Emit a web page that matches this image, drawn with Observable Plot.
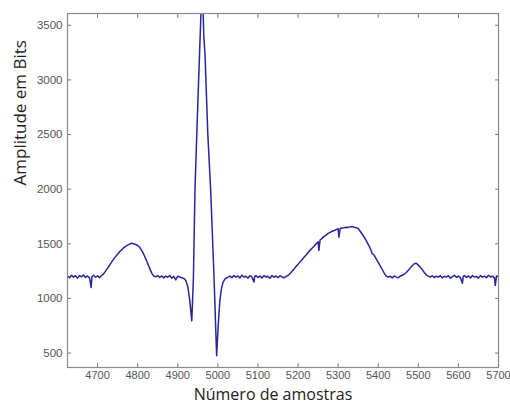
<!DOCTYPE html>
<html>
<head>
<meta charset="utf-8">
<script src="https://cdn.jsdelivr.net/npm/d3@7"></script>
<script src="https://cdn.jsdelivr.net/npm/@observablehq/plot@0.6"></script>
<style>
  html, body { margin: 0; padding: 0; background: #fff; }
  #chart svg { display: block; }
</style>
</head>
<body>
<div id="chart"></div>
<script>
// Sample index (Número de amostras)
const sampleX = [
  4625, 4630, 4635, 4640, 4645, 4650, 4655, 4660, 4665, 4670, 4675, 4680, 4684, 4686, 4690, 4695, 4700, 4705, 4710,
  4715, 4720, 4725, 4730, 4735, 4740, 4745, 4750, 4755, 4760, 4765, 4770, 4775, 4780, 4785, 4790, 4795, 4800, 4805, 4810, 4815, 4820, 4825, 4830, 4835,
  4840, 4845, 4850, 4855, 4860, 4865, 4870, 4875, 4880, 4885, 4890, 4895, 4900, 4905, 4910, 4915, 4920, 4925, 4930, 4935,
  4939, 4943, 4948, 4953, 4958, 4962, 4965, 4968, 4975, 4982, 4990, 4997,
  5001, 5005, 5009, 5013, 5018, 5024, 5030, 5035, 5040, 5045, 5050, 5055, 5060, 5065, 5070, 5075, 5080, 5085, 5090, 5092, 5095, 5100,
  5105, 5110, 5115, 5120, 5125, 5130, 5135, 5140, 5145, 5150, 5155, 5160, 5165, 5170, 5175,
  5180, 5185, 5190, 5195, 5200, 5205, 5210, 5215, 5220, 5225, 5230, 5235, 5240, 5245, 5250, 5252, 5255, 5260, 5265, 5270, 5275, 5280,
  5285, 5290, 5295, 5300, 5302, 5305, 5310, 5315, 5320, 5325, 5330, 5335, 5340, 5345, 5350, 5355, 5360, 5365, 5370, 5375, 5380, 5385,
  5390, 5395, 5400, 5405, 5410, 5415, 5420, 5425, 5430, 5435, 5440, 5445, 5450, 5455, 5460, 5465, 5470, 5475, 5480, 5485, 5490, 5495,
  5500, 5505, 5510, 5515, 5520, 5525, 5530, 5535, 5540, 5545, 5550, 5555, 5560, 5565, 5570, 5575, 5580, 5585, 5590, 5595, 5600, 5605,
  5610, 5612, 5615, 5620, 5625, 5630, 5635, 5640, 5645, 5650, 5655, 5660, 5665, 5670, 5675, 5680, 5685, 5690, 5692, 5695, 5700
];
// Amplitude em Bits
const amplitude = [
  1205, 1190, 1212, 1195, 1208, 1186, 1210, 1198, 1215, 1192, 1206, 1188, 1100, 1200, 1212, 1194, 1207, 1190, 1210,
  1225, 1250, 1278, 1305, 1332, 1360, 1385, 1405, 1428, 1445, 1462, 1476, 1488, 1498, 1505, 1500, 1494, 1485, 1468, 1440, 1405, 1365, 1320, 1275, 1232,
  1205, 1198, 1210, 1192, 1206, 1188, 1204, 1195, 1210, 1186, 1202, 1170, 1205, 1196, 1190, 1184, 1165, 1110, 980, 795,
  1180, 2000, 2560, 3100, 3620, 3800, 3400, 3230, 2500, 2000, 1240, 475,
  760, 980, 1090, 1150, 1180, 1192, 1205, 1190, 1210, 1195, 1206, 1188, 1212, 1196, 1203, 1185, 1208, 1196, 1150, 1200, 1210, 1192,
  1205, 1188, 1210, 1196, 1203, 1185, 1210, 1194, 1206, 1190, 1208, 1196, 1188, 1202, 1210,
  1228, 1248, 1268, 1292, 1312, 1335, 1355, 1378, 1398, 1420, 1440, 1460, 1478, 1500, 1518, 1440, 1535, 1550, 1568, 1580, 1595, 1605,
  1615, 1622, 1630, 1638, 1560, 1640, 1645, 1648, 1652, 1650, 1655, 1658, 1652, 1648, 1640, 1615, 1590, 1560, 1530, 1495, 1460, 1410,
  1395, 1362, 1330, 1298, 1265, 1232, 1205, 1196, 1203, 1188, 1206, 1195, 1190, 1205, 1212, 1222, 1238, 1258, 1280, 1300, 1318, 1322,
  1305, 1285, 1262, 1238, 1215, 1205, 1196, 1208, 1190, 1204, 1195, 1210, 1188, 1203, 1196, 1208, 1185, 1200, 1212, 1194, 1205, 1190,
  1140, 1200, 1210, 1192, 1206, 1188, 1210, 1196, 1202, 1186, 1209, 1195, 1204, 1190, 1212, 1196, 1205, 1188, 1120, 1205, 1200
];
const xTicks = [4700, 4800, 4900, 5000, 5100, 5200, 5300, 5400, 5500, 5600, 5700];
const yTicks = [500, 1000, 1500, 2000, 2500, 3000, 3500];
const xLabel = "Número de amostras";
const yLabel = "Amplitude em Bits";

const data = sampleX.map((x, i) => ({x, y: amplitude[i]}));

const tickColor = "#7a7a7a";
const titleFont = "'Open Sans', sans-serif";
const chart = Plot.plot({
  width: 510,
  height: 405,
  marginLeft: 67,
  marginRight: 12,
  marginTop: 13,
  marginBottom: 38,
  style: {fontFamily: "'Liberation Sans', Arial, sans-serif", background: "#fff", overflow: "visible"},
  x: {domain: [4625, 5700]},
  y: {domain: [368, 3608]},
  marks: [
    Plot.line(data, {x: "x", y: "y", stroke: "#26279a", strokeWidth: 1.5, clip: true}),
    Plot.frame({stroke: "#8a8a8a", strokeWidth: 1.2}),
    Plot.axisX({ticks: xTicks, anchor: "bottom", tickSize: -4, tickPadding: 8, stroke: tickColor, fill: "#555", fontSize: 11, label: null, tickFormat: d => String(d)}),
    Plot.axisX({ticks: xTicks, anchor: "top", tickSize: -4, stroke: tickColor, label: null, tickFormat: () => ""}),
    Plot.axisY({ticks: yTicks, anchor: "left", tickSize: -4, tickPadding: 9, stroke: tickColor, fill: "#555", fontSize: 11.5, label: null, tickFormat: d => String(d)}),
    Plot.axisY({ticks: yTicks, anchor: "right", tickSize: -4, stroke: tickColor, label: null, tickFormat: () => ""}),
    Plot.text([xLabel], {frameAnchor: "bottom", dx: -10, dy: 32, text: d => d, fontSize: 16, letterSpacing: 0.9, fill: "#222", fontFamily: titleFont}),
    Plot.text([yLabel], {frameAnchor: "left", dx: -47, dy: -5, rotate: -90, text: d => d, fontSize: 17, letterSpacing: 0.5, fill: "#222", fontFamily: titleFont})
  ]
});
document.getElementById("chart").appendChild(chart);
</script>
</body>
</html>
